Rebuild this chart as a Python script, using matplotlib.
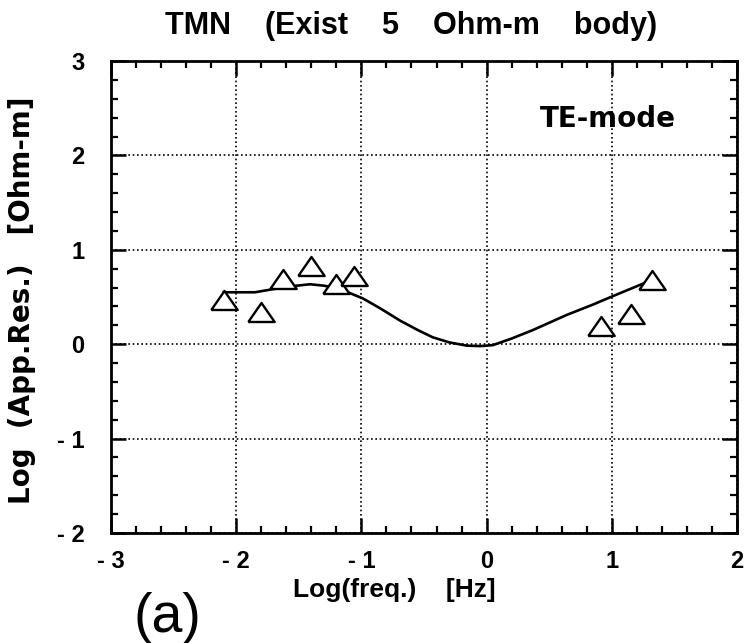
import matplotlib
matplotlib.use("Agg")
import matplotlib.pyplot as plt
from matplotlib.ticker import MultipleLocator

# Observed data (triangles)
obs_logf = [-2.10, -1.80, -1.63, -1.40, -1.20, -1.06, 0.91, 1.15, 1.32]
obs_logrho = [0.47, 0.34, 0.69, 0.83, 0.64, 0.72, 0.19, 0.32, 0.68]

# Model response (solid line)
mod_logf = [-2.10, -1.85, -1.72, -1.55, -1.41, -1.30, -1.22, -1.12, -0.99, -0.85,
            -0.69, -0.55, -0.43, -0.30, -0.16, -0.05, 0.05, 0.20, 0.37, 0.64, 0.85, 1.01, 1.32]
mod_logrho = [0.55, 0.55, 0.58, 0.615, 0.635, 0.62, 0.60, 0.556, 0.486, 0.38,
              0.249, 0.15, 0.073, 0.02, -0.015, -0.02, -0.01, 0.06, 0.15, 0.31, 0.42, 0.51, 0.68]

xticks = [-3, -2, -1, 0, 1, 2]
xticklabels = ["- 3", "- 2", "- 1", "0", "1", "2"]
yticks = [-2, -1, 0, 1, 2, 3]
yticklabels = ["- 2", "- 1", "0", "1", "2", "3"]

HEL = ["Liberation Sans", "DejaVu Sans"]
DJV = ["DejaVu Sans"]

fig = plt.figure(figsize=(7.44, 6.43), dpi=100)
ax = fig.add_axes([111/744, 1-533/643, (737-111)/744, (533-61)/643])

ax.plot(mod_logf, mod_logrho, color="black", lw=1.9, zorder=3,
        solid_joinstyle="round")
ax.plot(obs_logf, obs_logrho, linestyle="none",
        marker=[(-1, -0.72), (1, -0.72), (0, 0.72), (-1, -0.72)],
        markersize=19, markerfacecolor="white", markeredgecolor="black",
        markeredgewidth=1.7, zorder=4)

ax.set_xlim(-3, 2)
ax.set_ylim(-2, 3)
ax.set_xticks(xticks)
ax.set_xticklabels(xticklabels, family=HEL, fontweight="bold", fontsize=17)
ax.set_yticks(yticks)
ax.set_yticklabels(yticklabels, family=HEL, fontweight="bold", fontsize=17)
ax.xaxis.set_minor_locator(MultipleLocator(0.2))
ax.yaxis.set_minor_locator(MultipleLocator(0.2))
ax.tick_params(which="major", direction="in", length=11, width=1.8,
               top=True, right=True, pad=12, color="black")
ax.tick_params(axis="y", which="major", pad=19)
ax.tick_params(which="minor", direction="in", length=5, width=1.6,
               top=True, right=True)
for s in ax.spines.values():
    s.set_linewidth(2.0)

ax.grid(True, which="major", linestyle=(0, (1, 1.6)), color="black", lw=1.2)

ax.text(0.426, 2.30, "TE-mode", fontsize=20, fontweight="bold", family=DJV,
        ha="left", va="baseline")

fig.text(411/744, 1-26/643, "TMN    (Exist    5    Ohm-m    body)", fontsize=22,
         fontweight="bold", family=HEL, ha="center", va="center")
fig.text(394/744, 1-597/643, "Log(freq.)    [Hz]", fontsize=19,
         fontweight="bold", family=HEL, ha="center", va="baseline")
fig.text(22/744, 1-300/643, "Log  (App.Res.)   [Ohm-m]", fontsize=20,
         fontweight="bold", family=DJV, ha="center", va="center", rotation=90)
fig.text(167/744, 1-632/643, "(a)", fontsize=40, family=HEL,
         ha="center", va="baseline")

fig.savefig("out.png", dpi=100)
